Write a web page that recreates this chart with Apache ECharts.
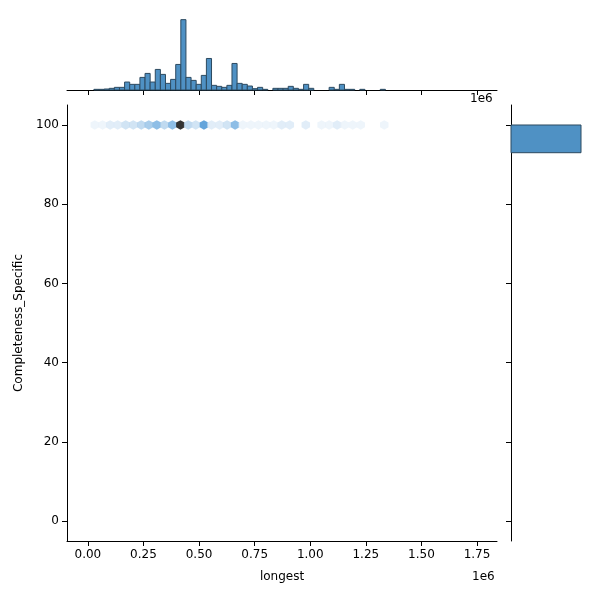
<!DOCTYPE html><html><head><meta charset="utf-8"><script src="https://cdn.jsdelivr.net/npm/echarts@6/dist/echarts.min.js"></script></head><body style="margin:0"><div id="c" style="width:600px;height:600px"></div><script>
const binStart = 27000, binWidth = 23000;
const histCounts = [2,2,3,5,8,8,24,17,17,38,50,24,62,47,20,32,77,212,38,29,17,44,95,14,11,8,14,80,20,17,12,4,8,2,0,5,5,5,11,5,2,17,5,0,0,0,8,2,17,2,2,0,2,0,0,0,2];
const hexX = [31,66,100,134,170,204,240,274,310,344,380,416,451,485,522,556,592,626,662,697,733,767,802,836,872,908,944,980,1015,1051,1085,1121,1155,1191,1227,1263,1297,1333];
const hexC = [1,1,2,2,3,3,4,5,6,4,6,10,4,3,8,2,2,3,6,1,1,1,1,1,2,2,0,2,0,1,1,2,1,1,1,0,0,1];
const xTicks = [0,250000,500000,750000,1000000,1250000,1500000,1750000];
const yTicks = [0,20,40,60,80,100];
const yHistLow = 93, yHistHigh = 100, yHistCount = 1;
const ch = echarts.init(document.getElementById('c'));
const font = 'DejaVu Sans';
const hex = 'path://M0,-1L0.866,-0.5L0.866,0.5L0,1L-0.866,0.5L-0.866,-0.5Z';
const palette = ['#f0f6fb','#eaf3fa','#d9e9f6','#c6ddf1','#b0d1ec','#93c0e6','#72aee0','#5a9fd9','#3f8fd2','#2a7fca','#000000'];
const xr = {min:-94000,max:1840000};
const rect = (x0,y0,x1,y1,api)=>{const a=api.coord([x0,y0]),b=api.coord([x1,y1]);return {type:'rect',shape:{x:Math.min(a[0],b[0]),y:Math.min(a[1],b[1]),width:Math.abs(b[0]-a[0]),height:Math.abs(b[1]-a[1])},style:{fill:'#4f91c4',stroke:'#2d4a60',lineWidth:1}};};
const blk = {color:'#000'};
ch.setOption({
 animation:false,
 textStyle:{fontFamily:font},
 grid:[{left:67,right:103,top:105,bottom:59},{left:67,right:103,top:17,bottom:510},{left:511,right:19,top:105,bottom:59}],
 xAxis:[
  {gridIndex:0,type:'value',...xr,name:'longest',nameLocation:'middle',nameGap:30,nameTextStyle:{color:'#000',fontSize:12},
   axisLine:{onZero:false,lineStyle:blk},axisTick:{customValues:xTicks,lineStyle:blk},splitLine:{show:false},
   axisLabel:{customValues:xTicks,color:'#000',fontSize:12,formatter:v=>(v/1e6).toFixed(2)}},
  {gridIndex:1,type:'value',...xr,axisLine:{onZero:false,lineStyle:blk},axisTick:{customValues:xTicks,lineStyle:blk},axisLabel:{show:false},splitLine:{show:false}},
  {gridIndex:2,type:'value',min:0,max:1,axisLine:{show:false},axisTick:{show:false},axisLabel:{show:false},splitLine:{show:false}}
 ],
 yAxis:[
  {gridIndex:0,type:'value',min:-5.05,max:105.05,name:'Completeness_Specific',nameLocation:'middle',nameGap:42,nameTextStyle:{color:'#000',fontSize:12},
   axisLine:{show:true,onZero:false,lineStyle:blk},axisTick:{show:true,customValues:yTicks,lineStyle:blk},splitLine:{show:false},
   axisLabel:{customValues:yTicks,color:'#000',fontSize:12}},
  {gridIndex:1,type:'value',min:0,max:220,axisLine:{show:false},axisTick:{show:false},axisLabel:{show:false},splitLine:{show:false}},
  {gridIndex:2,type:'value',min:-5.05,max:105.05,axisLine:{show:true,onZero:false,lineStyle:blk},axisTick:{show:true,customValues:yTicks,lineStyle:blk},axisLabel:{show:false},splitLine:{show:false}}
 ],
 graphic:[{type:'text',left:470,top:93,style:{text:'1e6',font:'12px DejaVu Sans',fill:'#000'}},{type:'text',left:472,top:571,style:{text:'1e6',font:'12px DejaVu Sans',fill:'#000'}}],
 series:[
  {type:'scatter',xAxisIndex:0,yAxisIndex:0,symbol:hex,
   data:hexX.map((x,i)=>({value:[x*1000,100],itemStyle:{color:palette[hexC[i]]},symbolSize:[8.5,9.5]})).filter((d,i)=>hexC[i]>0)},
  {type:'custom',xAxisIndex:1,yAxisIndex:1,data:histCounts.map((c,i)=>[binStart+i*binWidth,c]).filter(d=>d[1]>0),
   renderItem:(p,api)=>rect(api.value(0),0,api.value(0)+binWidth,api.value(1),api)},
  {type:'custom',xAxisIndex:2,yAxisIndex:2,data:[[yHistLow,yHistHigh,yHistCount]],
   renderItem:(p,api)=>rect(0,api.value(0),api.value(2),api.value(1),api)}
 ]
});
</script></body></html>
